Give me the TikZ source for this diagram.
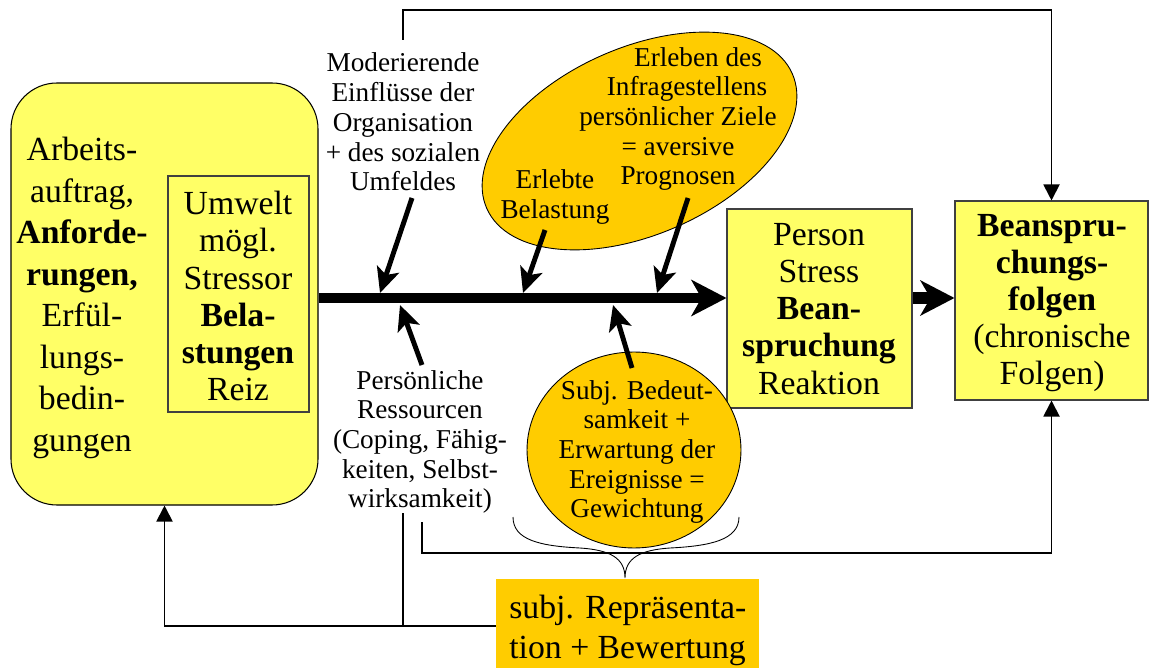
\documentclass[tikz,border=0pt]{standalone}
\usepackage{fontspec}
\setmainfont{Liberation Serif}
\usetikzlibrary{arrows.meta,shapes.geometric,fit}
\definecolor{paleyellow}{HTML}{FFFF66}
\definecolor{amber}{HTML}{FFCC00}
\begin{document}
\begin{tikzpicture}[x=0.02cm,y=-0.02cm,
  bigtxt/.style={font=\fontsize{19.2}{23.6}\selectfont, align=center, inner sep=0},
  boxtxt/.style={font=\fontsize{19.2}{21.1}\selectfont, align=center, inner sep=0},
  subjtxt/.style={font=\fontsize{19.2}{22.8}\selectfont, align=left, inner sep=0},
  smalltxt/.style={font=\fontsize{15.5}{16.9}\selectfont, align=center, inner sep=0},
  ybox/.style={draw=black!75, line width=0.6pt, fill=paleyellow, inner sep=0},
  oval/.style={ellipse, draw=black, line width=0.5pt, fill=amber, inner sep=0},
  feedback/.style={line width=1.1pt, -{Triangle[length=0.32cm,width=0.32cm]}},
  thinline/.style={line width=0.6pt},
  influence/.style={line width=2.8pt, -{Stealth[length=0.5cm,width=0.46cm,inset=0.12cm]}},
  flow/.style={line width=5.7pt, -{Stealth[length=0.7cm,width=0.72cm,inset=0.2cm]}},
  flowb/.style={line width=6.8pt, -{Stealth[length=0.68cm,width=0.7cm,inset=0.2cm]}},
]
\useasboundingbox (0,0) rectangle (1149,668);

% work assignment block with the environment box inside
\node[draw=black, line width=0.6pt, fill=paleyellow, rounded corners=0.92cm,
      inner sep=0, fit={(11,83) (318,505)}] (work) {};
\node[bigtxt] (worktxt) at (82,298)
  {Arbeits-\\auftrag,\\\textbf{Anforde-}\\\textbf{rungen,}\\Erfül-\\lungs-\\bedin-\\gungen};
\node[ybox, fit={(168,176) (309,412)}] (env) {};
\node[boxtxt] (envtxt) at (238,296)
  {Umwelt\\mögl.\\Stressor\\\textbf{Bela-}\\\textbf{stungen}\\Reiz};

% strain and its consequences
\node[ybox, fit={(727,209) (912,408)}] (person) {};
\node[boxtxt] (persontxt) at (819,309)
  {Person\\Stress\\\textbf{Bean-}\\\textbf{spruchung}\\Reaktion};
\node[ybox, fit={(955,201) (1148,400)}] (folgen) {};
\node[boxtxt] (folgentxt) at (1052,303)
  {\textbf{Beanspru-}\\\textbf{chungs-}\\\textbf{folgen}\\(chronische\\Folgen)};

% appraisal box
\node[fill=amber, inner sep=0, fit={(496,579) (759,673)}] (subj) {};
\node[subjtxt, anchor=west] (subjtxt) at (509,630)
  {subj. Repräsenta-\\tion + Bewertung};

% cognitive appraisal ovals
\node[oval, minimum width=6.68cm, minimum height=3.74cm, rotate=23.8] (goals) at (639.5,141) {};
\node[smalltxt] (goalstxt) at (678,119)
  {\hspace*{0.8cm}Erleben des\\\hspace*{0.36cm}Infragestellens\\persönlicher Ziele\\= aversive\\Prognosen};
\node[smalltxt] (load) at (555,197) {Erlebte\\Belastung};
\node[oval, minimum width=4.28cm, minimum height=3.92cm] (weight) at (634,450) {};
\node[smalltxt] (weighttxt) at (637,452)
  {Subj. Bedeut-\\samkeit +\\Erwartung der\\Ereignisse =\\Gewichtung};

% moderating influences and resources
\node[smalltxt] (org) at (403,122)
  {Moderierende\\Einflüsse der\\Organisation\\+ des sozialen\\Umfeldes};
\node[smalltxt] (res) at (420,442)
  {Persönliche\\Ressourcen\\(Coping, Fähig-\\keiten, Selbst-\\wirksamkeit)};

% main stress path
\coordinate (axis) at (0,298);
\draw[flow] (work.east |- axis) -- (person.west |- axis);
\draw[flowb] (person.east |- axis) -- (folgen.west |- axis);

% influences acting on the stress path
\coordinate (orgfoot) at (412,198);   \coordinate (orgtip) at (380,293);
\coordinate (loadfoot) at (545,230);  \coordinate (loadtip) at (523,293);
\coordinate (goalfoot) at (688,198);  \coordinate (goaltip) at (657,293);
\coordinate (resfoot) at (422,365);   \coordinate (restip) at (400,305);
\coordinate (wfoot) at (632,368);     \coordinate (wtip) at (613,305);
\draw[influence] (orgfoot) -- (orgtip);
\draw[influence] (loadfoot) -- (loadtip);
\draw[influence] (goalfoot) -- (goaltip);
\draw[influence] (resfoot) -- (restip);
\draw[influence] (wfoot) -- (wtip);

% feedback loops
\coordinate (orgtop) at (403,40);
\draw[feedback] (orgtop) -- ++(0,-30) -| (folgen.north);
\coordinate (resbottom) at (422,522);
\draw[feedback] (resbottom) -- ++(0,31) -| (folgen.south);
\draw[feedback] (subj.west) -| (work.south);
\coordinate (restap) at (403,513);
\draw[thinline] (restap) -- (restap |- subj.west);

% brace gathering resources and weighting
\coordinate (braceL) at (513,517);
\coordinate (braceR) at (739,517);
\coordinate (braceTip) at (625,578);
\draw[line width=0.5pt] (braceL) .. controls (513,540) and (540,546) .. (580,548)
  .. controls (610,550) and (625,558) .. (braceTip)
  .. controls (625,558) and (640,550) .. (670,548)
  .. controls (710,546) and (739,540) .. (braceR);
\end{tikzpicture}
\end{document}
